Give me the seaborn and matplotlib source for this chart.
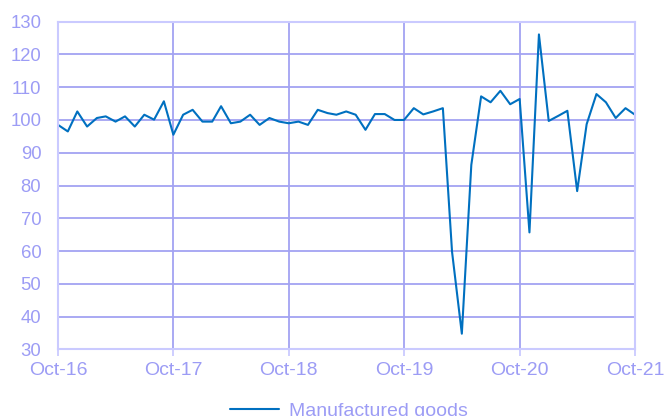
"""Monthly index of manufactured goods, Oct-16 to Oct-21."""

import matplotlib

matplotlib.use("Agg")
import matplotlib.dates as mdates
import matplotlib.pyplot as plt
import pandas as pd
import seaborn as sns

months = pd.date_range("2016-10-01", "2021-10-01", freq="MS")
manufactured_goods = [
    98.5, 96.5, 102.6, 98.0, 100.6, 101.1, 99.5, 101.1, 98.0, 101.6, 100.1, 105.7,
    95.5, 101.6, 103.1, 99.5, 99.5, 104.2, 99.0, 99.5, 101.6, 98.5, 100.6, 99.5,
    99.0, 99.5, 98.5, 103.1, 102.1, 101.6, 102.6, 101.6, 97.0, 101.8, 101.8, 100.0,
    100.0, 103.6, 101.7, 102.6, 103.6, 59.8, 34.8, 86.3, 107.2, 105.4, 108.9, 104.8,
    106.4, 65.7, 126.1, 99.7, 101.3, 102.8, 78.3, 98.7, 107.9, 105.4, 100.6, 103.6,
    101.6,
]
y_ticks = list(range(30, 131, 10))
tick_dates = pd.date_range("2016-10-01", "2021-10-01", freq="12MS")

df = pd.DataFrame({"month": months, "value": manufactured_goods})

sns.set_theme(style="white")
plt.rcParams["font.family"] = ["Liberation Sans", "DejaVu Sans"]

text_color = "#9c9cf5"
grid_color = "#a3a3f2"
frame_color = "#cacaff"

fig = plt.figure(figsize=(6.67, 4.16), dpi=100)
ax = fig.add_axes([0.087, 0.16, 0.865, 0.788])

sns.lineplot(data=df, x="month", y="value", ax=ax, color="#0070c0",
             linewidth=1.5, label="Manufactured goods", legend=False)

ax.set_xlim(months[0], months[-1])
ax.set_ylim(30, 130)
ax.set_yticks(y_ticks)
ax.set_xticks(tick_dates)
ax.xaxis.set_major_formatter(mdates.DateFormatter("%b-%y"))
ax.set_xlabel("")
ax.set_ylabel("")

ax.grid(True, color=grid_color, linewidth=1.3)
ax.set_axisbelow(True)
for spine in ax.spines.values():
    spine.set_color(frame_color)
    spine.set_linewidth(1.5)

ax.tick_params(axis="y", length=0, labelsize=13.3, labelcolor=text_color, pad=12)
ax.tick_params(axis="x", length=5, width=1.3, color=frame_color, direction="out",
               labelsize=14, labelcolor=text_color, pad=4, bottom=True)

leg = fig.legend(loc="center", bbox_to_anchor=(0.523, 0.011), frameon=False,
                 fontsize=14, handlelength=2.5, handletextpad=0.5)
for t in leg.get_texts():
    t.set_color(text_color)

fig.savefig("out.png", dpi=100)
